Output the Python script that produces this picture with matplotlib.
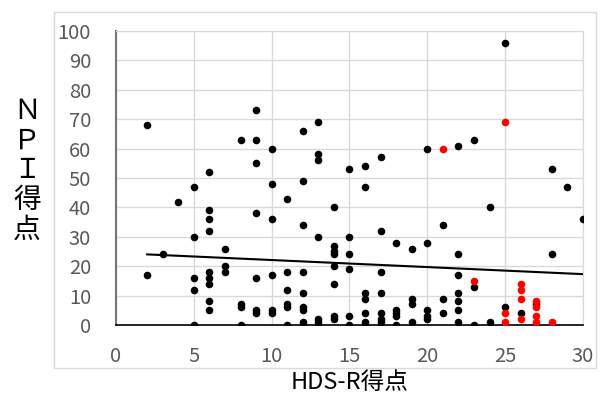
import numpy as np
import matplotlib
matplotlib.use('Agg')
import matplotlib.pyplot as plt
from matplotlib.patches import Rectangle

plt.rcParams['font.family'] = ['Noto Sans CJK JP', 'DejaVu Sans']

# ---- data (HDS-R score vs NPI score) ----
black_x = [2, 2, 3, 4,
           5, 5, 5, 5, 5,
           6, 6, 6, 6, 6, 6, 6, 6, 6,
           7, 7, 7,
           8, 8, 8, 8,
           9, 9, 9, 9, 9, 9, 9,
           10, 10, 10, 10, 10, 10,
           11, 11, 11, 11, 11, 11,
           12, 12, 12, 12, 12, 12, 12, 12, 12,
           13, 13, 13, 13, 13, 13, 13,
           14, 14, 14, 14, 14, 14, 14, 14,
           15, 15, 15, 15, 15, 15,
           16, 16, 16, 16, 16, 16, 16,
           17, 17, 17, 17, 17, 17, 17, 17,
           18, 18, 18, 18, 18,
           19, 19, 19, 19,
           20, 20, 20, 20, 20,
           21, 21, 21,
           22, 22, 22, 22, 22, 22, 22,
           23, 23, 23,
           24, 24,
           25, 25,
           26, 27,
           28, 28, 29, 30]
black_y = [68, 17, 24, 42,
           47, 30, 16, 12, 0,
           52, 39, 36, 32, 18, 16, 14, 8, 5,
           26, 20, 18,
           63, 7, 6, 0,
           73, 63, 55, 38, 16, 5, 4,
           60, 48, 36, 17, 5, 4,
           43, 18, 12, 7, 6, 0,
           66, 49, 34, 18, 11, 6, 5, 1, 0,
           69, 58, 56, 30, 2, 1, 0,
           40, 27, 25, 24, 20, 14, 3, 2,
           53, 30, 24, 19, 3, 0,
           54, 47, 11, 9, 4, 1, 0,
           57, 32, 18, 11, 4, 2, 1, 0,
           28, 5, 4, 3, 0,
           26, 9, 7, 1,
           60, 28, 5, 3, 2,
           34, 9, 4,
           61, 24, 17, 11, 8, 5, 1,
           63, 13, 0,
           40, 1,
           96, 6,
           4, 7,
           53, 24, 47, 36]

red_x = [21, 23, 25, 25, 25, 26, 26, 26, 26, 27, 27, 27, 27, 28]
red_y = [60, 15, 69, 4, 1, 14, 12, 9, 2, 8, 6, 3, 1, 1]

# linear trendline (coefficients)
trend_slope = -0.24
trend_intercept = 24.5

fig = plt.figure(figsize=(6.02, 3.96), dpi=100)
ax = fig.add_axes([0.1927, 0.1793, 0.7757, 0.7424])

# plot-area frame
fig.add_artist(Rectangle((54 / 602, 1 - 368 / 396), (596 - 54) / 602, (368 - 12) / 396,
                         transform=fig.transFigure, fill=False, edgecolor='#d9d9d9', lw=1))

ax.scatter(black_x, black_y, s=30, color='black', zorder=3, linewidths=0)
ax.scatter(red_x, red_y, s=30, color='#ff0000', zorder=4, linewidths=0)

tx = np.array([min(black_x), max(black_x)])
ax.plot(tx, trend_slope * tx + trend_intercept, color='black', lw=1.5, zorder=5)

ax.set_xlim(0, 30)
ax.set_ylim(0, 100)
ax.set_xticks(range(0, 31, 5))
ax.set_yticks(range(0, 101, 10))
ax.grid(True, color='#d9d9d9', lw=1)
ax.set_axisbelow(True)
ax.tick_params(length=0, labelsize=14.5, labelcolor='#595959')
ax.tick_params(axis='x', pad=15)
ax.tick_params(axis='y', pad=18)

for s in ['top', 'right']:
    ax.spines[s].set_color('#d9d9d9')
ax.spines['left'].set_color('#767676')
ax.spines['left'].set_linewidth(1.5)
ax.spines['bottom'].set_color('black')
ax.spines['bottom'].set_linewidth(1.2)

ax.set_xlabel('HDS-R得点', fontsize=17, labelpad=3)
fig.text(0.045, 0.57, '\n'.join('ＮＰＩ得点'), fontsize=20, ha='center', va='center',
         linespacing=0.98)

fig.savefig('out.png', dpi=100)
